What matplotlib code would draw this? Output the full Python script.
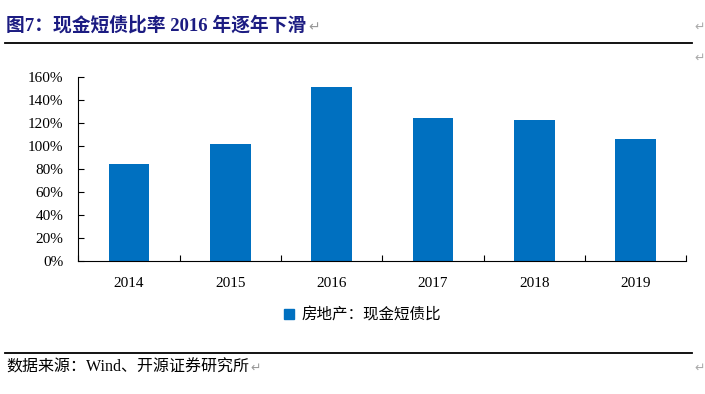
import matplotlib

matplotlib.use("Agg")
import matplotlib.pyplot as plt
from matplotlib.lines import Line2D

years = ["2014", "2015", "2016", "2017", "2018", "2019"]
cash_short_debt_ratio = [84.2, 101.7, 151.3, 124.3, 122.6, 106.1]
y_ticks = [0, 20, 40, 60, 80, 100, 120, 140, 160]

title = "图7：现金短债比率 2016 年逐年下滑"
legend_label = "房地产：现金短债比"
source = "数据来源：Wind、开源证券研究所"

serif_cjk = ["Liberation Serif", "Noto Sans CJK SC"]
bar_color = "#0070C0"
navy = "#1C1C82"

fig = plt.figure(figsize=(7.05, 3.94), dpi=100)
ax = fig.add_axes([0.1113, 0.3383, 0.862, 0.4655])

x = range(len(years))
ax.bar(x, cash_short_debt_ratio, width=0.4, color=bar_color, zorder=2)

ax.set_xlim(-0.5, len(years) - 0.5)
ax.set_ylim(0, 160)
ax.set_xticks(list(x))
ax.set_xticklabels(years, family=serif_cjk, fontsize=11)
ax.set_xticks([i - 0.5 for i in range(len(years) + 1)], minor=True)
ax.tick_params(axis="x", which="major", length=0, pad=12)
ax.tick_params(axis="x", which="minor", direction="in", length=4, width=0.8)
ax.set_yticks(y_ticks)
ax.set_yticklabels([f"{v}%" for v in y_ticks], family=serif_cjk, fontsize=11)
ax.tick_params(axis="y", direction="in", length=4, width=0.8, pad=11)
for side in ("top", "right"):
    ax.spines[side].set_visible(False)
for side in ("left", "bottom"):
    ax.spines[side].set_linewidth(0.8)

# legend below the plot
handle = Line2D([], [], linestyle="none", marker="s", markersize=6.5,
                color=bar_color)
fig.legend([handle], [legend_label], loc="center", bbox_to_anchor=(0.514, 0.2),
           frameon=False, handlelength=0.7, handletextpad=0.5,
           prop={"family": serif_cjk, "size": 11.2})

# header / footer decorations
fig.text(0.009, 0.935, title, family=serif_cjk, fontsize=13.5,
         fontweight="bold", color=navy, va="center", ha="left")
fig.text(0.438, 0.93, "\u21b5", family=["DejaVu Sans"], fontsize=10,
         color="#999999", va="center")
fig.add_artist(Line2D([0.007, 0.982], [0.891, 0.891], color="black",
                      linewidth=1.3))
fig.add_artist(Line2D([0.007, 0.982], [0.104, 0.104], color="black",
                      linewidth=1.3))
fig.text(0.009, 0.066, source, family=serif_cjk, fontsize=11.5,
         color="black", va="center", ha="left")
fig.text(0.355, 0.066, "\u21b5", family=["DejaVu Sans"], fontsize=9,
         color="#999999", va="center")
for yy in (0.93, 0.853, 0.066):
    fig.text(0.985, yy, "\u21b5", family=["DejaVu Sans"], fontsize=9,
             color="#aaaaaa", va="center")

fig.savefig("out.png", dpi=100)
plt.close(fig)
